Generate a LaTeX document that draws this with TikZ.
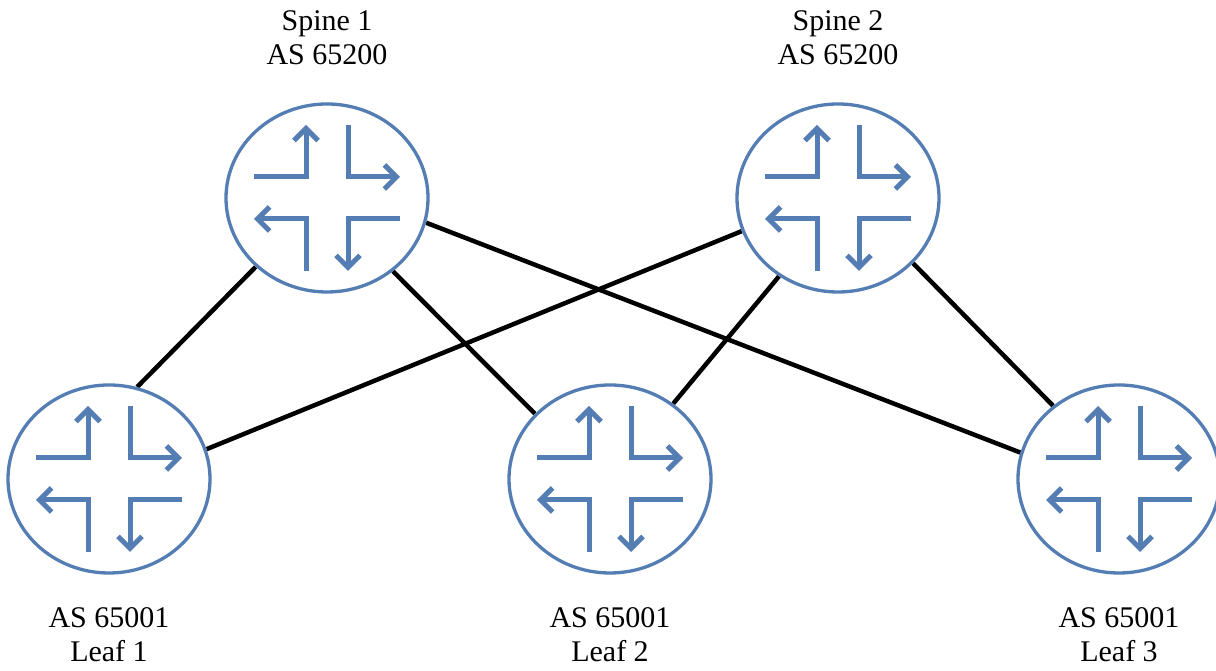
\documentclass[tikz,border=0pt]{standalone}
\usepackage{fontspec}
\setmainfont{Liberation Serif}
\usepackage{tikz}
\usetikzlibrary{positioning, arrows.meta, shapes.geometric}
\pgfdeclarelayer{background}
\pgfsetlayers{background,main}
\definecolor{routerblue}{RGB}{84,125,180}
\tikzset{
    quad/.pic = {
    \foreach \r in {0,-90,-180,-270}
      \draw[rotate=\r, routerblue, line width=5pt, -{Straight Barb[length=12pt, width=24pt]}]
        (-73pt,21pt) -- (-21pt,21pt) -- (-21pt,73pt);
    },
    router/.style={ellipse, draw=routerblue, line width=3.3pt, fill=white,
      minimum width=202pt, minimum height=188pt, inner sep=0pt},
    link/.style={line width=4.5pt, black},
    aslabel/.append style={align=center, inner sep=0pt, font=\fontsize{30}{34}\selectfont},
}

\begin{document}
\begin{tikzpicture}[x=1pt, y=1pt]
    \useasboundingbox (0,0) rectangle (1216,671);

    \node[router] (s1) at (327,473) {};
    \node[router] (s2) at (838,473) {};
    \node[router] (l1) at (109,192) {};
    \node[router] (l2) at (610,192) {};
    \node[router] (l3) at (1119,192) {};
    \foreach \n in {s1,s2,l1,l2,l3}
      \pic at (\n) {quad};

    \node[aslabel, above=37pt of s1] (s1t) {Spine 1\\AS 65200};
    \node[aslabel, above=37pt of s2] (s2t) {Spine 2\\AS 65200};
    \node[aslabel, below=33pt of l1] (l1t) {AS 65001\\Leaf 1};
    \node[aslabel, below=33pt of l2] (l2t) {AS 65001\\Leaf 2};
    \node[aslabel, below=33pt of l3] (l3t) {AS 65001\\Leaf 3};

    \begin{pgfonlayer}{background}
      \draw[link] (s1.224) -- (l1.73);
      \draw[link] (s1.312) -- (l2.139);
      \draw[link] (s1.346) -- (l3.165);
      \draw[link] (s2.199) -- (l1.17);
      \draw[link] (s2.233) -- (l2.50);
      \draw[link] (s2.319) -- (l3.132);
    \end{pgfonlayer}

\end{tikzpicture}
\end{document}
